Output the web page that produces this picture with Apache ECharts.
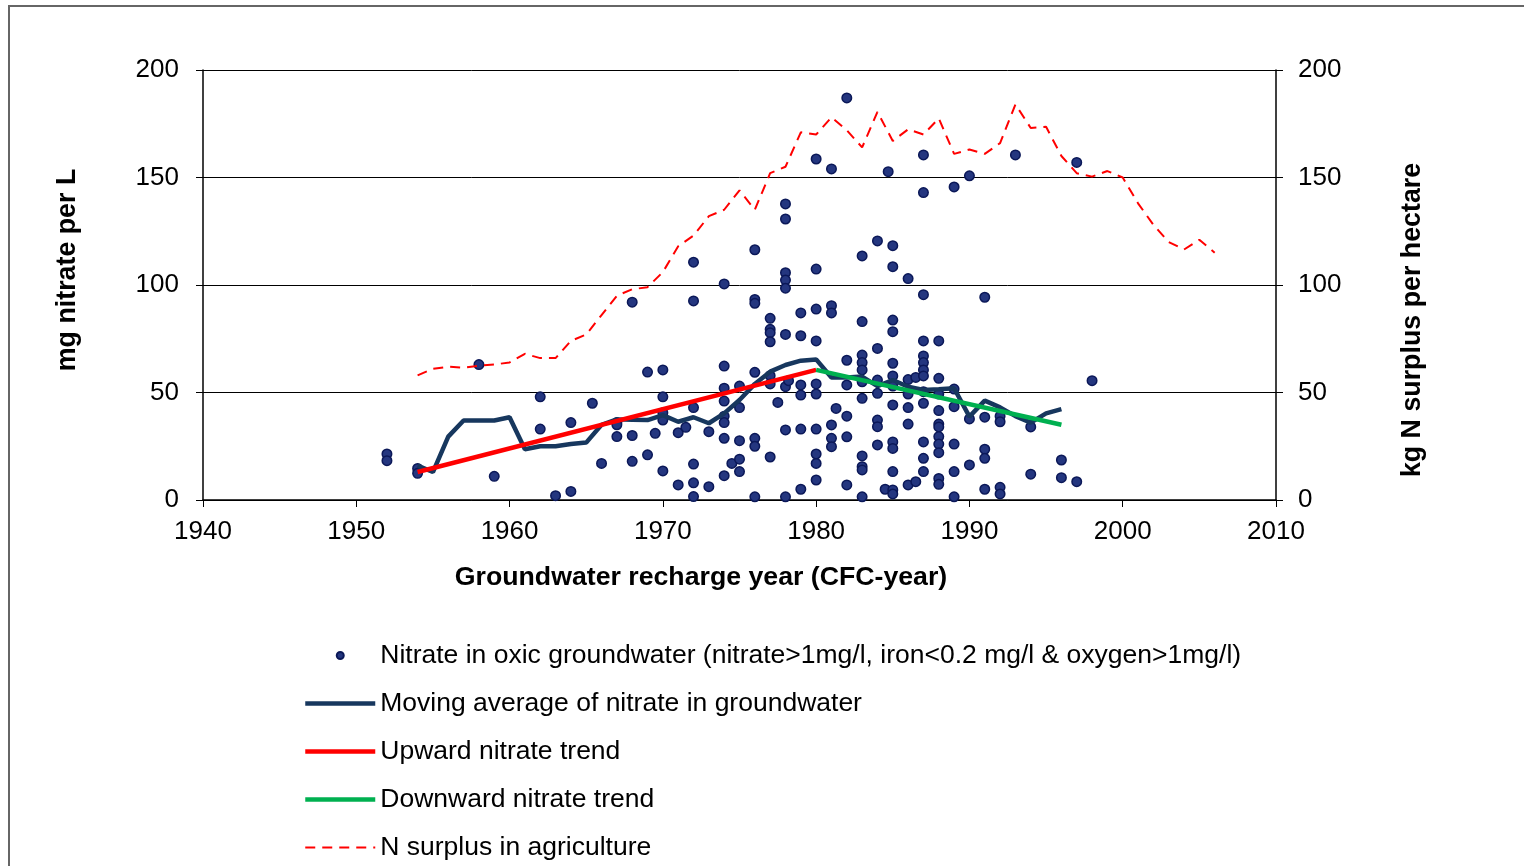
<!DOCTYPE html>
<html>
<head>
<meta charset="utf-8">
<title>Nitrate in groundwater</title>
<script src="https://cdn.jsdelivr.net/npm/echarts@6/dist/echarts.min.js"></script>
<style>
  html, body { margin: 0; padding: 0; background: #fff; }
  #chart { width: 1524px; height: 866px; }
</style>
</head>
<body>
<div id="chart"></div>
<script>
// oxic groundwater samples: recharge year and nitrate (mg/L)
const sampleYears = [
  1952, 1952, 1954, 1954, 1958, 1959, 1962, 1962, 1963, 1964, 1964, 1965.4, 1966,
  1967, 1967, 1967, 1968, 1968, 1968, 1969, 1969, 1969.5,
  1970, 1970, 1970, 1970, 1970, 1971, 1971, 1971.5,
  1972, 1972, 1972, 1972, 1972, 1972, 1973, 1973,
  1974, 1974, 1974, 1974, 1974, 1974, 1974, 1974, 1974.5,
  1975, 1975, 1975, 1975, 1975,
  1976, 1976, 1976, 1976, 1976, 1976, 1976,
  1977, 1977, 1977, 1977, 1977, 1977, 1977, 1977.5,
  1978, 1978, 1978, 1978, 1978, 1978, 1978, 1978, 1978, 1978.2,
  1979, 1979, 1979, 1979, 1979, 1979,
  1980, 1980, 1980, 1980, 1980, 1980, 1980, 1980, 1980, 1980,
  1981, 1981, 1981, 1981, 1981, 1981, 1981.3,
  1982, 1982, 1982, 1982, 1982, 1982,
  1983, 1983, 1983, 1983, 1983, 1983, 1983, 1983, 1983, 1983, 1983,
  1984, 1984, 1984, 1984, 1984, 1984, 1984, 1984.5, 1984.7,
  1985, 1985, 1985, 1985, 1985, 1985, 1985, 1985, 1985, 1985, 1985, 1985, 1985,
  1986, 1986, 1986, 1986, 1986, 1986, 1986.5, 1986.5,
  1987, 1987, 1987, 1987, 1987, 1987, 1987, 1987, 1987, 1987, 1987, 1987, 1987,
  1988, 1988, 1988, 1988, 1988, 1988, 1988, 1988, 1988, 1988, 1988,
  1989, 1989, 1989, 1989, 1989, 1989,
  1990, 1990, 1990,
  1991, 1991, 1991, 1991, 1991,
  1992, 1992, 1992, 1992,
  1993, 1994, 1994, 1996, 1996, 1997, 1997, 1998
];
const sampleNitrate = [
  21.4, 18.3, 14.7, 12.4, 63, 11, 48, 33, 2, 4, 36, 45, 17,
  36, 35, 29.5, 30, 18, 92, 59.5, 21, 31,
  60.5, 48, 40.6, 37.2, 13.5, 31.3, 7, 33.8,
  110.6, 92.6, 43, 16.7, 8, 1.6, 31.8, 6.2,
  100.5, 62.3, 52, 46, 39, 36, 28.7, 11.3, 17,
  53, 43, 27.6, 19, 13.2,
  116.4, 93.3, 91.5, 59.4, 28.7, 25, 1.5,
  84.5, 79.4, 77.8, 73.6, 57.8, 54, 20, 45.4,
  137.7, 130.7, 105.7, 102.3, 98.5, 77, 52.7, 32.6, 1.5, 55.5,
  87, 76.4, 53.5, 48.8, 33, 5,
  158.6, 107.4, 88.8, 74, 54, 49.3, 33, 21.4, 17, 9.3,
  154, 90.4, 87, 34.9, 28.7, 24.8, 42.6,
  187, 65, 53.5, 39, 29.4, 7,
  113.5, 83, 67.4, 63.9, 60.5, 55, 47.3, 20.5, 15.5, 14, 1.5,
  120.5, 70.5, 55.8, 49.6, 37.2, 34.1, 25.6, 5, 152.7,
  118.3, 108.5, 83.7, 78.3, 63.6, 57.7, 53, 44.2, 27, 24, 13.2, 4.7, 2.8,
  103, 56, 49.3, 43, 35.3, 7, 57, 8.5,
  160.5, 143, 95.5, 74, 67, 63.9, 60.5, 57.7, 50.4, 45, 27, 19.4, 13.2,
  74, 56.6, 49.3, 41.6, 35.3, 34, 29.5, 26, 22, 10, 7.3,
  145.6, 51.6, 43.4, 26, 13.2, 1.5,
  150.8, 37.7, 16.3,
  94.3, 38.5, 23.6, 19.4, 5,
  39, 36.4, 5.9, 2.8,
  160.5, 34, 12, 18.6, 10.4, 157, 8.5, 55.5
];

// moving average of nitrate
const avgYears = [
  1954, 1955, 1956, 1957, 1958, 1959, 1960, 1961, 1962, 1963, 1964, 1965,
  1966, 1967, 1968, 1969, 1970, 1971, 1972, 1973, 1974, 1975, 1976, 1977,
  1978, 1979, 1980, 1981, 1982, 1983, 1984, 1985, 1986, 1987, 1988, 1989,
  1990, 1991, 1992, 1993, 1994, 1995, 1996
];
const avgNitrate = [
  16, 13, 29.5, 37, 37, 37, 38.5, 23.6, 25, 25, 26, 26.7,
  35, 37.5, 37.3, 37.2, 39.5, 36.4, 38.5, 35.7, 40.3, 46.5, 54, 59.7,
  62.8, 64.8, 65.4, 57, 57, 57.4, 53, 55.8, 52.7, 51.2, 51.5, 52,
  38.8, 46.2, 43.1, 39, 36, 40.3, 42.3
];

// trend lines (start / end)
const upYears = [1954, 1980];
const upValues = [13, 60.5];
const downYears = [1980, 1996];
const downValues = [60.5, 35];

// N surplus in agriculture (kg N per hectare)
const surplusYears = [
  1954, 1955, 1956, 1957, 1958, 1959, 1960, 1961, 1962, 1963, 1964, 1965,
  1966, 1967, 1968, 1969, 1970, 1971, 1972, 1973, 1974, 1975, 1976, 1977,
  1978, 1979, 1980, 1981, 1982, 1983, 1984, 1985, 1986, 1987, 1988, 1989,
  1990, 1991, 1992, 1993, 1994, 1995, 1996, 1997, 1998, 1999, 2000, 2001,
  2002, 2003, 2004, 2005, 2006
];
const surplusValues = [
  58, 61, 62, 61.5, 62.5, 63, 64, 68, 66, 66, 74, 77,
  86, 95, 98, 99, 106, 118, 123, 132, 135, 144, 135, 152,
  155, 171, 170, 178, 172, 164, 180.5, 167, 172.4, 170, 177.5, 161,
  163, 161, 166, 184, 173, 173.6, 160, 152, 150.4, 153, 150, 138,
  128, 120, 116.5, 121, 115
];

const yTicks = ['0', '50', '100', '150', '200'];

const pairs = (xs, ys) => xs.map((x, i) => [x, ys[i]]);

const FONT = '"Liberation Sans", Arial, sans-serif';
const SCATTER_NAME = 'Nitrate in oxic groundwater (nitrate>1mg/l, iron<0.2 mg/l & oxygen>1mg/l)';

const chart = echarts.init(document.getElementById('chart'));

const valueAxis = (pos) => ({
  type: 'value',
  position: pos,
  min: 0,
  max: 200,
  interval: 50,
  axisLine: { show: true, lineStyle: { color: '#000', width: 1.5 } },
  axisTick: { show: true, inside: false, length: 7, lineStyle: { color: '#000', width: 1 } },
  axisLabel: {
    margin: pos === 'left' ? 24 : 22,
    color: '#000',
    fontSize: 26,
    fontFamily: FONT,
    formatter: (v) => yTicks[v / 50]
  },
  splitLine: { show: pos === 'left', lineStyle: { color: '#000', width: 1 } }
});

// line entries in the legend: plain line, hide the little marker
const lineEntry = (name) => ({ name: name, itemStyle: { opacity: 0 } });

const option = {
  backgroundColor: '#fff',
  animation: false,
  grid: { left: 203, right: 248, top: 70, bottom: 366 },
  xAxis: {
    type: 'value',
    min: 1940,
    max: 2010,
    interval: 10,
    axisLine: { show: true, onZero: false, lineStyle: { color: '#000', width: 1.5 } },
    axisTick: { show: true, length: 7, lineStyle: { color: '#000', width: 1 } },
    axisLabel: { margin: 19, color: '#000', fontSize: 26, fontFamily: FONT, formatter: (v) => String(v) },
    splitLine: { show: false }
  },
  yAxis: [valueAxis('left'), valueAxis('right')],
  legend: {
    orient: 'vertical',
    left: 303,
    top: 641,
    height: 300,
    padding: 0,
    itemWidth: 70,
    itemHeight: 7,
    itemGap: 19,
    lineStyle: { width: 'inherit' },
    textStyle: { color: '#000', fontSize: 26.5, lineHeight: 29, fontFamily: FONT },
    data: [
      { name: SCATTER_NAME, icon: 'circle' },
      lineEntry('Moving average of nitrate in groundwater'),
      lineEntry('Upward nitrate trend'),
      lineEntry('Downward nitrate trend'),
      lineEntry('N surplus in agriculture')
    ]
  },
  graphic: [
    {
      type: 'rect',
      silent: true,
      shape: { x: 9, y: 6, width: 1600, height: 1000 },
      style: { fill: 'none', stroke: '#666', lineWidth: 2 }
    },
    {
      type: 'text',
      x: 701, y: 578,
      style: {
        text: 'Groundwater recharge year (CFC-year)',
        fill: '#000', font: 'bold 26.7px ' + FONT,
        textAlign: 'center', textVerticalAlign: 'middle'
      }
    },
    {
      type: 'text',
      x: 68, y: 270, rotation: Math.PI / 2,
      style: {
        text: 'mg nitrate per L',
        fill: '#000', font: 'bold 26.8px ' + FONT,
        textAlign: 'center', textVerticalAlign: 'middle'
      }
    },
    {
      type: 'text',
      x: 1413, y: 320, rotation: Math.PI / 2,
      style: {
        text: 'kg N surplus per hectare',
        fill: '#000', font: 'bold 26.8px ' + FONT,
        textAlign: 'center', textVerticalAlign: 'middle'
      }
    }
  ],
  series: [
    {
      name: SCATTER_NAME,
      type: 'scatter',
      symbol: 'circle',
      symbolSize: 9.5,
      itemStyle: { color: '#24367f', borderColor: '#0b1858', borderWidth: 1.5, opacity: 1 },
      z: 2,
      data: pairs(sampleYears, sampleNitrate)
    },
    {
      name: 'Moving average of nitrate in groundwater',
      type: 'line',
      symbol: 'none',
      color: '#17375e',
      lineStyle: { color: '#17375e', width: 4.5 },
      z: 3,
      data: pairs(avgYears, avgNitrate)
    },
    {
      name: 'Upward nitrate trend',
      type: 'line',
      symbol: 'none',
      color: '#ff0000',
      lineStyle: { color: '#ff0000', width: 4.5 },
      z: 4,
      data: pairs(upYears, upValues)
    },
    {
      name: 'Downward nitrate trend',
      type: 'line',
      symbol: 'none',
      color: '#00b050',
      lineStyle: { color: '#00b050', width: 4.5 },
      z: 4,
      data: pairs(downYears, downValues)
    },
    {
      name: 'N surplus in agriculture',
      type: 'line',
      yAxisIndex: 1,
      symbol: 'none',
      color: '#ff0000',
      lineStyle: { color: '#ff0000', width: 2, type: [10, 7] },
      z: 4,
      data: pairs(surplusYears, surplusValues)
    }
  ]
};

chart.setOption(option);
</script>
</body>
</html>
